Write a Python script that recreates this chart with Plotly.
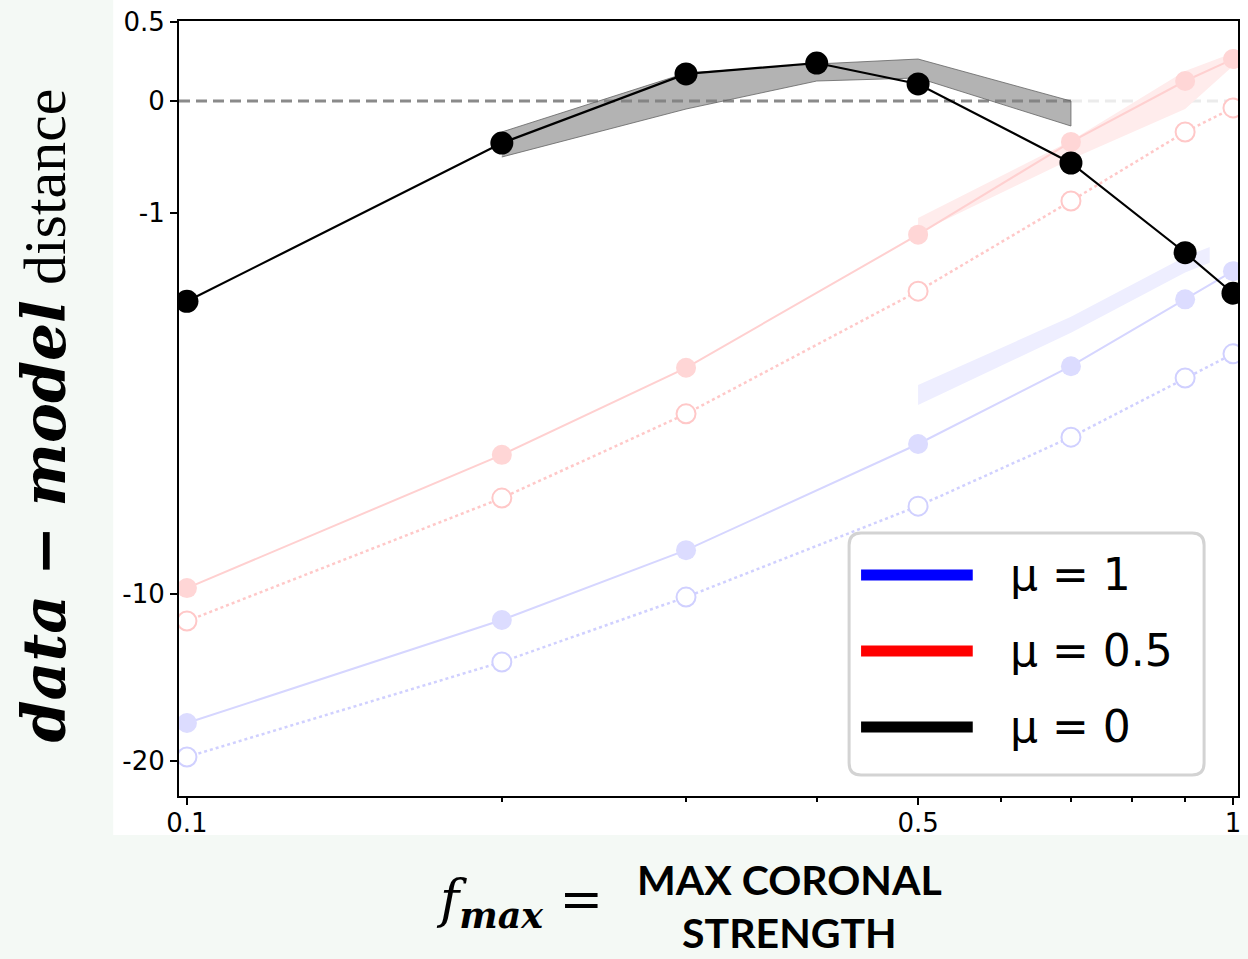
import numpy as np
import plotly.graph_objects as go

# ---------------- data ----------------
FMAX = [0.1, 0.2, 0.3, 0.4, 0.5, 0.7, 0.9, 1.0]
FMAX_MU = [0.1, 0.2, 0.3, 0.5, 0.7, 0.9, 1.0]

# mu = 0 (black)
DIST_MU0 = [-2.14, -0.33, 0.155, 0.222, 0.096, -0.505, -1.47, -2.02]
BAND_X = [0.2, 0.3, 0.4, 0.5, 0.7]
BAND_HI = [-0.238, 0.160, 0.216, 0.247, 0.0]
BAND_LO = [-0.451, -0.059, 0.113, 0.131, -0.190]

# mu = 0.5 (red, faded)
DIST_MU05 = [-9.73, -5.23, -3.27, -1.25, -0.32, 0.113, 0.247]
DIST_MU05_ALT = [-11.22, -6.46, -4.23, -1.99, -0.876, -0.238, -0.051]
RED_BAND_X = [0.5, 0.7, 0.9, 1.0]
RED_BAND_HI = [-1.06, -0.31, 0.173, 0.285]
RED_BAND_LO = [-1.23, -0.47, -0.059, 0.203]

# mu = 1 (blue, faded)
DIST_MU1 = [-17.15, -11.17, -8.22, -4.95, -3.24, -2.11, -1.71]
DIST_MU1_ALT = [-19.66, -13.34, -10.12, -6.71, -4.78, -3.47, -3.01]
BLUE_BAND_X = [0.5, 0.7, 0.9, 0.95]
BLUE_BAND_HI = [-3.61, -2.38, -1.52, -1.40]
BLUE_BAND_LO = [-4.03, -2.64, -1.73, -1.60]

Y_TICKS = [0.5, 0, -1, -10, -20]
Y_TICK_TEXT = ["0.5", "0", "-1", "-10", "-20"]
X_TICKS = [0.1, 0.5, 1.0]
X_TICK_TEXT = ["0.1", "0.5", "1"]
X_MINOR = [0.2, 0.3, 0.4, 0.6, 0.7, 0.8, 0.9]

LEGEND_LABELS = ["\u03bc = 1", "\u03bc = 0.5", "\u03bc = 0"]
LEGEND_COLORS = ["#0000ff", "#ff0000", "#000000"]


# compressed (log-like) distance axis
def to_axis(v):
    v = np.asarray(v, dtype=float)
    return np.where(v >= 0, np.log10(1 + v / 1.5), -np.log10(1 - v / 2.0))


# ---------------- layout geometry ----------------
W, H = 1248, 959
L, R, T, B = 179, 7, 21, 163
PW, PH = W - L - R, H - T - B
Y_TOP = 0.1262
X_RANGE = [-1.0076, 0.0048]


def px(x):
    return (x - L) / PW


def py(y):
    return (H - B - y) / PH


def x_domain(v):
    return (np.log10(v) - X_RANGE[0]) / (X_RANGE[1] - X_RANGE[0])


fig = go.Figure()


def band(xs, hi, lo, fill, line="rgba(0,0,0,0)", lw=0):
    fig.add_trace(go.Scatter(
        x=list(xs) + list(xs)[::-1],
        y=list(to_axis(hi)) + list(to_axis(lo))[::-1],
        mode="lines", fill="toself", fillcolor=fill,
        line=dict(color=line, width=lw), hoverinfo="skip", showlegend=False))


# faded uncertainty bands
band(RED_BAND_X, RED_BAND_HI, RED_BAND_LO, "rgb(255,236,236)")
band(BLUE_BAND_X, BLUE_BAND_HI, BLUE_BAND_LO, "rgb(238,238,255)")

# faded mu = 1 and mu = 0.5 curves
for ys, ys_alt, line_c, fill_c, open_c in [
    (DIST_MU1, DIST_MU1_ALT, "rgb(214,214,255)", "rgb(220,220,255)", "rgb(208,208,255)"),
    (DIST_MU05, DIST_MU05_ALT, "rgb(255,208,208)", "rgb(255,214,214)", "rgb(255,200,200)"),
]:
    fig.add_trace(go.Scatter(
        x=FMAX_MU, y=to_axis(ys_alt), mode="lines+markers",
        line=dict(color=open_c, width=2.5, dash="dot"),
        marker=dict(size=19, color="white", line=dict(color=open_c, width=2)),
        hoverinfo="skip", showlegend=False))
    fig.add_trace(go.Scatter(
        x=FMAX_MU, y=to_axis(ys), mode="lines+markers",
        line=dict(color=line_c, width=2),
        marker=dict(size=20, color=fill_c),
        hoverinfo="skip", showlegend=False))

# grey band for mu = 0
band(BAND_X, BAND_HI, BAND_LO, "rgba(128,128,128,0.6)", "rgba(100,100,100,0.8)", 1)

# mu = 0 curve
fig.add_trace(go.Scatter(
    x=FMAX, y=to_axis(DIST_MU0), mode="lines+markers",
    line=dict(color="black", width=2.2),
    marker=dict(size=23, color="black"),
    hoverinfo="skip", showlegend=False))

shapes = []
# white figure panel behind the axes
shapes.append(dict(type="rect", xref="paper", yref="paper", layer="below",
                   x0=px(113), x1=px(W + 5), y0=py(835), y1=py(-5),
                   fillcolor="white", line=dict(width=0)))
# zero reference line
split = x_domain(FMAX[5])
shapes.append(dict(type="line", xref="x domain", yref="y", layer="below",
                   x0=0, x1=split, y0=0, y1=0,
                   line=dict(color="#8a8a8a", width=3, dash="11px,6px")))
shapes.append(dict(type="line", xref="x domain", yref="y", layer="below",
                   x0=split, x1=1, y0=0, y1=0,
                   line=dict(color="#ebebeb", width=3, dash="11px,6px")))

# legend frame (rounded)
x0, x1, y0, y1 = px(851), px(1207), py(775), py(533)
rx, ry = 12 / PW, 12 / PH
path = (f"M {x0+rx},{y0} L {x1-rx},{y0} Q {x1},{y0} {x1},{y0+ry} "
        f"L {x1},{y1-ry} Q {x1},{y1} {x1-rx},{y1} L {x0+rx},{y1} "
        f"Q {x0},{y1} {x0},{y1-ry} L {x0},{y0+ry} Q {x0},{y0} {x0+rx},{y0} Z")
shapes.append(dict(type="path", xref="paper", yref="paper", layer="above",
                   path=path, fillcolor="white", line=dict(color="#d3d3d3", width=3)))

annotations = []
rows = [575, 651, 727]
for yrow, lab, col in zip(rows, LEGEND_LABELS, LEGEND_COLORS):
    shapes.append(dict(type="line", xref="paper", yref="paper", layer="above",
                       x0=px(863), x1=px(975), y0=py(yrow), y1=py(yrow),
                       line=dict(color=col, width=11)))
    annotations.append(dict(xref="paper", yref="paper", x=px(1010), y=py(yrow - 1),
                            xanchor="left", yanchor="middle", showarrow=False,
                            text=lab, font=dict(family="DejaVu Sans", size=44, color="black")))

# axis titles
annotations.append(dict(
    xref="paper", yref="paper", x=px(44), y=py(415), xanchor="center", yanchor="middle",
    textangle=-90, showarrow=False,
    text=("<span style='font-family:DejaVu Serif'><b><i>data</i></b> <b>\u2212</b> "
          "<b><i>model</i></b></span> distance"),
    font=dict(family="Liberation Serif", size=60, color="black")))

annotations.append(dict(
    xref="paper", yref="paper", x=px(520), y=py(903), xanchor="center", yanchor="middle",
    showarrow=False,
    text="<i>f</i><sub><b><i>max</i></b></sub> =",
    font=dict(family="DejaVu Serif", size=52, color="black")))

annotations.append(dict(
    xref="paper", yref="paper", x=px(791), y=py(906), xanchor="center", yanchor="middle",
    showarrow=False, text="<b>MAX CORONAL<br>STRENGTH</b>",
    font=dict(family="Lato", size=41, color="black")))

fig.update_layout(
    width=W, height=H,
    margin=dict(l=L, r=R, t=T, b=B, pad=0),
    paper_bgcolor="#f4f9f5", plot_bgcolor="white",
    shapes=shapes, annotations=annotations, showlegend=False,
    xaxis=dict(
        type="log", range=X_RANGE,
        tickvals=X_TICKS, ticktext=X_TICK_TEXT,
        ticks="outside", ticklen=7, tickwidth=2, tickcolor="black",
        ticklabelstandoff=-4,
        minor=dict(tickvals=X_MINOR, ticks="outside", ticklen=4, tickwidth=1.5,
                   tickcolor="black", showgrid=False),
        showgrid=False, zeroline=False,
        showline=True, linecolor="black", linewidth=2, mirror=True,
        tickfont=dict(family="DejaVu Sans", size=26, color="black"),
    ),
    yaxis=dict(
        range=[Y_TOP - PH / 634, Y_TOP],
        tickvals=list(to_axis(Y_TICKS)), ticktext=Y_TICK_TEXT,
        ticks="outside", ticklen=7, tickwidth=2, tickcolor="black",
        showgrid=False, zeroline=False,
        showline=True, linecolor="black", linewidth=2, mirror=True,
        tickfont=dict(family="DejaVu Sans", size=26, color="black"),
    ),
)

fig.write_html("out.html")
